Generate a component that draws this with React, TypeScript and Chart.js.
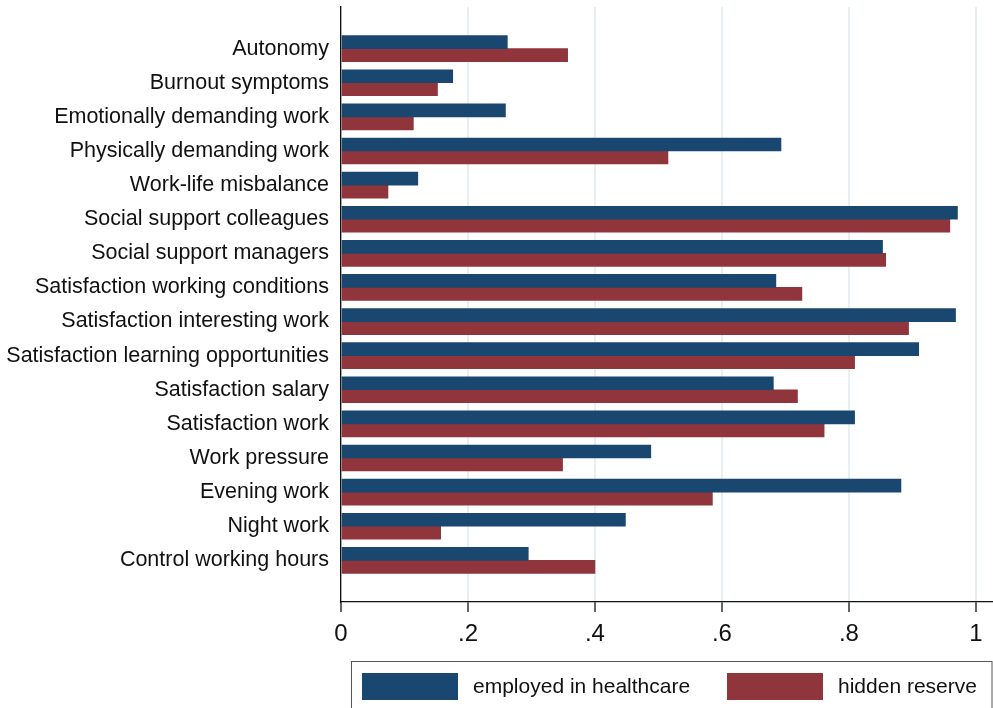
import React, { useEffect, useRef } from 'react';
import { Chart, registerables } from 'chart.js';

Chart.register(...registerables);

// Job characteristics, shares by group
const categories = [
  'Autonomy',
  'Burnout symptoms',
  'Emotionally demanding work',
  'Physically demanding work',
  'Work-life misbalance',
  'Social support colleagues',
  'Social support managers',
  'Satisfaction working conditions',
  'Satisfaction interesting work',
  'Satisfaction learning opportunities',
  'Satisfaction salary',
  'Satisfaction work',
  'Work pressure',
  'Evening work',
  'Night work',
  'Control working hours',
];

const employedValues = [
  0.262, 0.176, 0.259, 0.693, 0.121, 0.971, 0.853, 0.685,
  0.968, 0.910, 0.681, 0.809, 0.488, 0.882, 0.448, 0.295,
];

const hiddenReserveValues = [
  0.357, 0.152, 0.114, 0.515, 0.074, 0.959, 0.858, 0.726,
  0.894, 0.809, 0.719, 0.761, 0.349, 0.585, 0.157, 0.400,
];

const seriesNames = ['employed in healthcare', 'hidden reserve'];
const seriesColors = ['#1a476f', '#90353b'];
const xTickValues = [0, 0.2, 0.4, 0.6, 0.8, 1];

const FONT = "'Liberation Sans', Arial, Helvetica, sans-serif";

const formatTick = (v: number) => {
  if (v === 0) return '0';
  if (v === 1) return '1';
  return String(Math.round(v * 10) / 10).replace(/^0/, '');
};

// Legend drawn in a framed box along the bottom
const boxedLegend = {
  id: 'boxedLegend',
  afterDraw(chart: any) {
    const { ctx, chartArea } = chart;
    const left = chartArea.left + 10.5;
    const top = 661.5;
    ctx.save();
    ctx.strokeStyle = '#555';
    ctx.lineWidth = 1;
    ctx.strokeRect(left, top, chartArea.right - left - 1, 60);
    ctx.font = `21px ${FONT}`;
    ctx.textBaseline = 'middle';
    ctx.textAlign = 'left';
    const offsets = [10.5, 375.5];
    chart.data.datasets.forEach((ds: any, i: number) => {
      const x = left + offsets[i];
      ctx.fillStyle = ds.backgroundColor;
      ctx.fillRect(x, top + 11.5, 96, 27);
      ctx.fillStyle = '#111';
      ctx.fillText(ds.label, x + 111, top + 26);
    });
    ctx.restore();
  },
};

export default function App() {
  const canvasRef = useRef<HTMLCanvasElement | null>(null);

  useEffect(() => {
    document.body.style.margin = '0';
    const canvas = canvasRef.current;
    if (!canvas) return;

    const datasets = [employedValues, hiddenReserveValues].map((vals, s) => ({
      label: seriesNames[s],
      data: vals.map((v, i) => ({ x: v, y: i })),
      backgroundColor: seriesColors[s],
      borderWidth: 0,
      barThickness: 13,
    }));

    const chart = new Chart(canvas, {
      type: 'bar',
      data: { datasets },
      plugins: [boxedLegend],
      options: {
        indexAxis: 'y',
        responsive: false,
        animation: false,
        layout: { padding: { top: 7, left: 0, right: 0, bottom: 0 } },
        plugins: {
          legend: { display: false },
          tooltip: { enabled: false },
        },
        scales: {
          x: {
            type: 'linear',
            position: 'bottom',
            min: 0,
            max: 1.027,
            offset: false,
            afterBuildTicks: (scale: any) => {
              scale.ticks = xTickValues.map((value) => ({ value }));
            },
            afterFit: (scale: any) => {
              scale.height = 106;
              scale.paddingLeft = 0;
              scale.paddingRight = 0;
            },
            ticks: {
              callback: (v: any) => formatTick(Number(v)),
              font: { family: FONT, size: 24 },
              color: '#111',
              padding: 8,
              maxRotation: 0,
              autoSkip: false,
              includeBounds: false,
            },
            grid: {
              color: '#e6eff1',
              lineWidth: 2,
              tickColor: '#111',
              tickLength: 10,
              tickWidth: 1.3,
              offset: false,
            },
            border: { display: true, color: '#111', width: 1.3 },
          },
          y: {
            type: 'linear',
            reverse: true,
            min: -1.22,
            max: 16.22,
            offset: false,
            afterBuildTicks: (scale: any) => {
              scale.ticks = categories.map((_, i) => ({ value: i }));
            },
            afterFit: (scale: any) => {
              scale.width = 341;
              scale.paddingTop = 0;
              scale.paddingBottom = 0;
            },
            ticks: {
              callback: (v: any) => categories[Number(v)] ?? '',
              font: { family: FONT, size: 21.5 },
              color: '#111',
              padding: 12,
              autoSkip: false,
              includeBounds: false,
            },
            grid: { display: true, drawOnChartArea: false, drawTicks: false, offset: false },
            border: { display: true, color: '#111', width: 1.3 },
          },
        },
      },
    } as any);

    return () => chart.destroy();
  }, []);

  return (
    <div style={{ width: 993, height: 708, background: '#fff' }}>
      <canvas ref={canvasRef} width={993} height={708} style={{ display: 'block' }} />
    </div>
  );
}
